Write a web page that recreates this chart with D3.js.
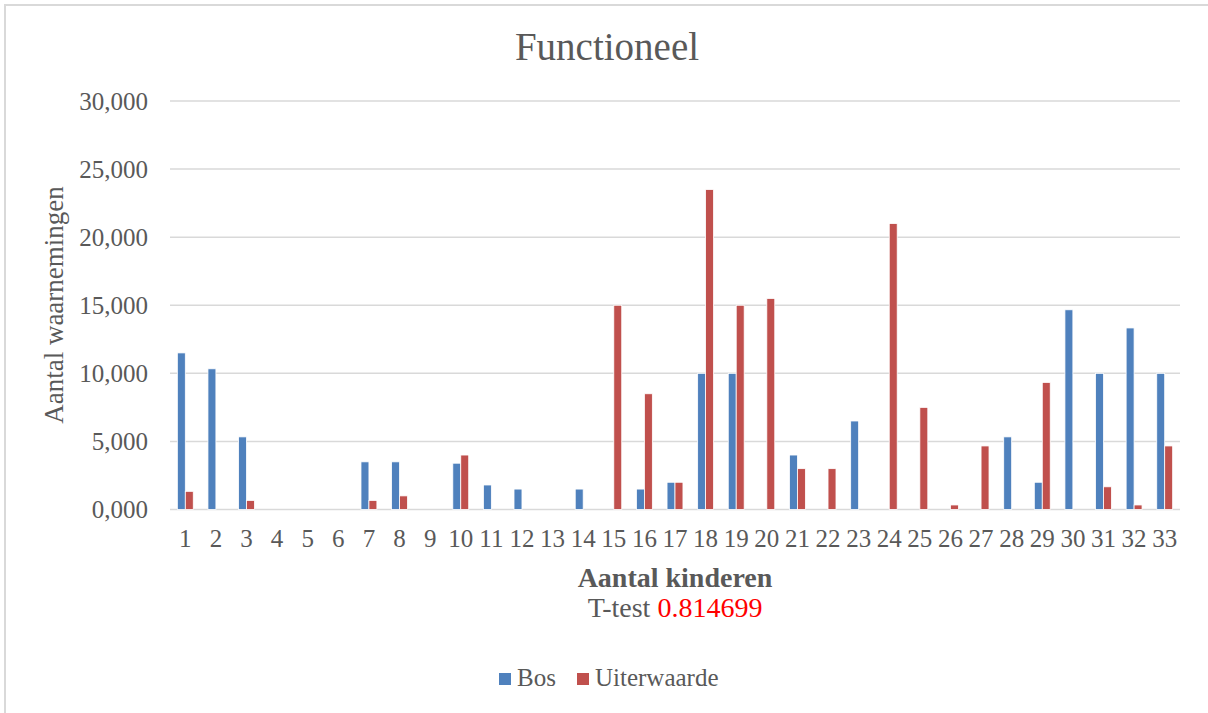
<!DOCTYPE html>
<html>
<head>
<meta charset="utf-8">
<script src="https://cdn.jsdelivr.net/npm/d3@7"></script>
<style>
  html, body { margin: 0; padding: 0; background: #fff; }
  svg { display: block; }
  text { font-family: "Liberation Serif", "Times New Roman", serif; fill: #595959; }
</style>
</head>
<body>
<div id="chart"></div>
<script>
// data (values in thousands, shown as "30,000" etc.)
var categories = d3.range(1, 34).map(String);
var seriesNames = ["Bos", "Uiterwaarde"];
var bosValues = [11.5, 10.333, 5.333, 0, 0, 0, 3.5, 3.5, 0, 3.4, 1.8, 1.5, 0, 1.5, 0, 1.5, 2, 10, 10, 0,
  4, 0, 6.5, 0, 0, 0, 0, 5.333, 2, 14.667, 10, 13.333, 10];
var uiterValues = [1.333, 0, 0.667, 0, 0, 0, 0.667, 1, 0, 4, 0, 0, 0, 0, 15, 8.5, 2, 23.5, 15, 15.5,
  3, 3, 0, 21, 7.5, 0.333, 4.667, 0, 9.333, 0, 1.667, 0.333, 4.667];
var yTicks = [0, 5, 10, 15, 20, 25, 30];
var colors = ["#4f81bd", "#c0504d"];
var tTestValue = "0.814699";

var width = 1208, height = 713;
var margin = { left: 170, right: 28, top: 101, bottom: 203 };

var svg = d3.select("#chart").append("svg")
  .attr("width", width).attr("height", height);

// outer chart border
svg.append("rect")
  .attr("x", 5).attr("y", 5)
  .attr("width", width + 20).attr("height", height + 20)
  .attr("fill", "none").attr("stroke", "#d9d9d9").attr("stroke-width", 2);

var x0 = d3.scaleBand().domain(categories)
  .range([margin.left, width - margin.right])
  .paddingInner(0.48).paddingOuter(0.24);
var x1 = d3.scaleBand().domain(seriesNames).range([0, x0.bandwidth()]);
var y = d3.scaleLinear().domain([0, 30]).range([height - margin.bottom - 0.5, margin.top]);

var fmt = function(d){ return d3.format(".3f")(d).replace(".", ","); };

// gridlines
svg.append("g").selectAll("line").data(yTicks).enter().append("line")
  .attr("x1", margin.left).attr("x2", width - margin.right)
  .attr("y1", function(d){ return y(d); }).attr("y2", function(d){ return y(d); })
  .attr("stroke", "#d9d9d9").attr("stroke-width", 1.5);

// y tick labels
svg.append("g").selectAll("text").data(yTicks).enter().append("text")
  .attr("x", 148).attr("y", function(d){ return y(d); })
  .attr("dy", "0.35em").attr("text-anchor", "end")
  .style("font-size", "25px")
  .text(fmt);

// bars
var rows = categories.map(function(c, i){
  return { cat: c, vals: [bosValues[i], uiterValues[i]] };
});
var groups = svg.append("g").selectAll("g").data(rows).enter().append("g")
  .attr("transform", function(d){ return "translate(" + x0(d.cat) + ",0)"; });
groups.selectAll("rect").data(function(d){
    return d.vals.map(function(v, j){ return { name: seriesNames[j], v: v, j: j }; });
  })
  .enter().filter(function(d){ return d.v > 0; }).append("rect")
  .attr("x", function(d){ return x1(d.name); })
  .attr("width", x1.bandwidth())
  .attr("y", function(d){ return y(d.v); })
  .attr("height", function(d){ return y(0) - y(d.v); })
  .attr("fill", function(d){ return colors[d.j]; })
  .attr("stroke", "#fff").attr("stroke-width", 0.8);

// x tick labels
svg.append("g").selectAll("text").data(categories).enter().append("text")
  .attr("x", function(d){ return x0(d) + x0.bandwidth() / 2; })
  .attr("y", 547).attr("text-anchor", "middle")
  .style("font-size", "25px")
  .text(function(d){ return d; });

// title
svg.append("text").attr("x", 607).attr("y", 60).attr("text-anchor", "middle")
  .style("font-size", "39px").text("Functioneel");

// axis titles
svg.append("text").attr("transform", "translate(63,305) rotate(-90)")
  .attr("text-anchor", "middle").style("font-size", "27px")
  .text("Aantal waarnemingen");

svg.append("text").attr("x", 675).attr("y", 587).attr("text-anchor", "middle")
  .style("font-size", "28px").style("font-weight", "bold")
  .text("Aantal kinderen");

var tt = svg.append("text").attr("x", 675).attr("y", 617).attr("text-anchor", "middle")
  .style("font-size", "28px");
tt.append("tspan").text("T-test ");
tt.append("tspan").style("fill", "#ff0000").text(tTestValue);

// legend
var legendX = [499, 577];
var legend = svg.append("g").selectAll("g").data(seriesNames).enter().append("g")
  .attr("transform", function(d, i){ return "translate(" + legendX[i] + ",673)"; });
legend.append("rect").attr("width", 12).attr("height", 12)
  .attr("fill", function(d, i){ return colors[i]; });
legend.append("text").attr("x", 18).attr("y", 13)
  .style("font-size", "25px").text(function(d){ return d; });
</script>
</body>
</html>
